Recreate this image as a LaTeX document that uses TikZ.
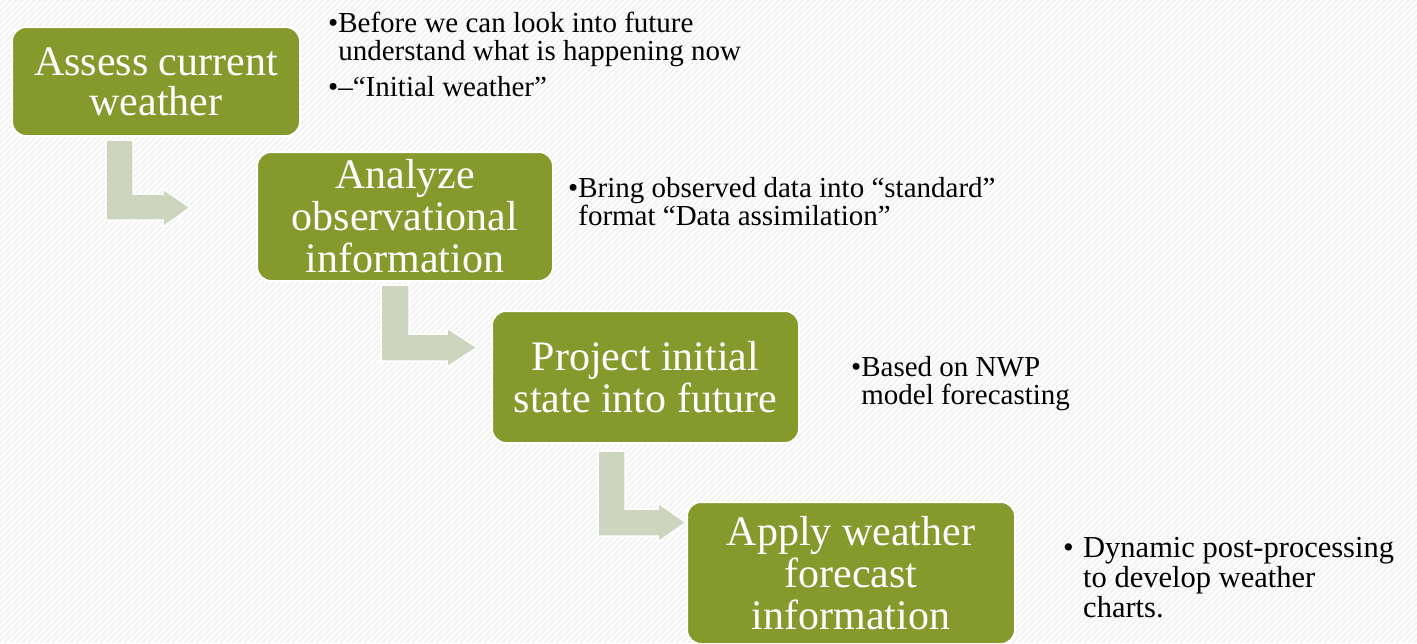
\documentclass[tikz,border=0pt]{standalone}
\usepackage{fontspec}
\setmainfont{Liberation Serif}
\definecolor{boxolive}{RGB}{133,153,45}
\definecolor{arrowsage}{RGB}{205,213,190}
\definecolor{bggray}{RGB}{241,241,241}
\begin{document}
\begin{tikzpicture}[x=1pt,y=-1pt,
  stepbox/.style={draw=white, line width=2pt, fill=boxolive, rounded corners=14pt,
    text=white, align=center, inner sep=0pt, font=\fontsize{42}{42}\selectfont},
  bent/.style={fill=arrowsage, draw=white, line width=1.5pt, line join=miter},
  note/.style={anchor=base west, inner sep=0pt, text=black, font=\fontsize{29}{28}\selectfont},
  stripe/.style={draw=white, line width=2.2pt}]
\useasboundingbox (0,0) rectangle (1417,643);
\clip (0,0) rectangle (1417,643);
% background
\fill[bggray] (0,0) rectangle (1417,643);
\foreach \i in {-660,-654,...,1420} \draw[stripe] (\i,650) -- (\i+650,0);

% step boxes
\node[stepbox, font=\fontsize{42}{40}\selectfont, minimum width=288pt, minimum height=109pt] (b1) at (156,81.5) {Assess current\\weather};
\node[stepbox, minimum width=296pt, minimum height=129pt] (b2) at (405,216.5) {Analyze\\observational\\information};
\node[stepbox, minimum width=307pt, minimum height=132pt] (b3) at (645.5,377) {Project initial\\state into future};
\node[stepbox, minimum width=328pt, minimum height=142pt] (b4) at (851,573) {Apply weather\\forecast\\information};

% bent arrows
\coordinate (a1) at (106,140);
\draw[bent] (a1) -- ++(27,0) -- ++(0,54) -- ++(30,0) -- ++(0,-5) -- ++(27,18.5) -- ++(-27,19.5) -- ++(0,-7) -- ++(-57,0) -- cycle;
\coordinate (a2) at (381,285);
\draw[bent] (a2) -- ++(28,0) -- ++(0,49) -- ++(38,0) -- ++(0,-6) -- ++(30,19.5) -- ++(-30,19.5) -- ++(0,-6) -- ++(-66,0) -- cycle;
\coordinate (a3) at (598,451);
\draw[bent] (a3) -- ++(27,0) -- ++(0,58) -- ++(33,0) -- ++(0,-6) -- ++(28,19.5) -- ++(-28,19.5) -- ++(0,-6) -- ++(-60,0) -- cycle;

% notes
\node[note] (n1) at (328,32) {\begin{tabular}[t]{@{}l@{}l@{}}•&Before we can look into future\\&understand what is happening now\\[7pt]•&–“Initial weather”\end{tabular}};
\node[note] (n2) at (568,197) {\begin{tabular}[t]{@{}l@{}l@{}}•&Bring observed data into “standard”\\&format “Data assimilation”\end{tabular}};
\node[note] (n3) at (851,376) {\begin{tabular}[t]{@{}l@{}l@{}}•&Based on NWP\\&model forecasting\end{tabular}};
\node[note, font=\fontsize{30.5}{30}\selectfont] (n4) at (1063,557) {\begin{tabular}[t]{@{}l@{}l@{}}\makebox[20pt][l]{•}&Dynamic post-processing\\&to develop weather\\&charts.\end{tabular}};
\end{tikzpicture}
\end{document}
